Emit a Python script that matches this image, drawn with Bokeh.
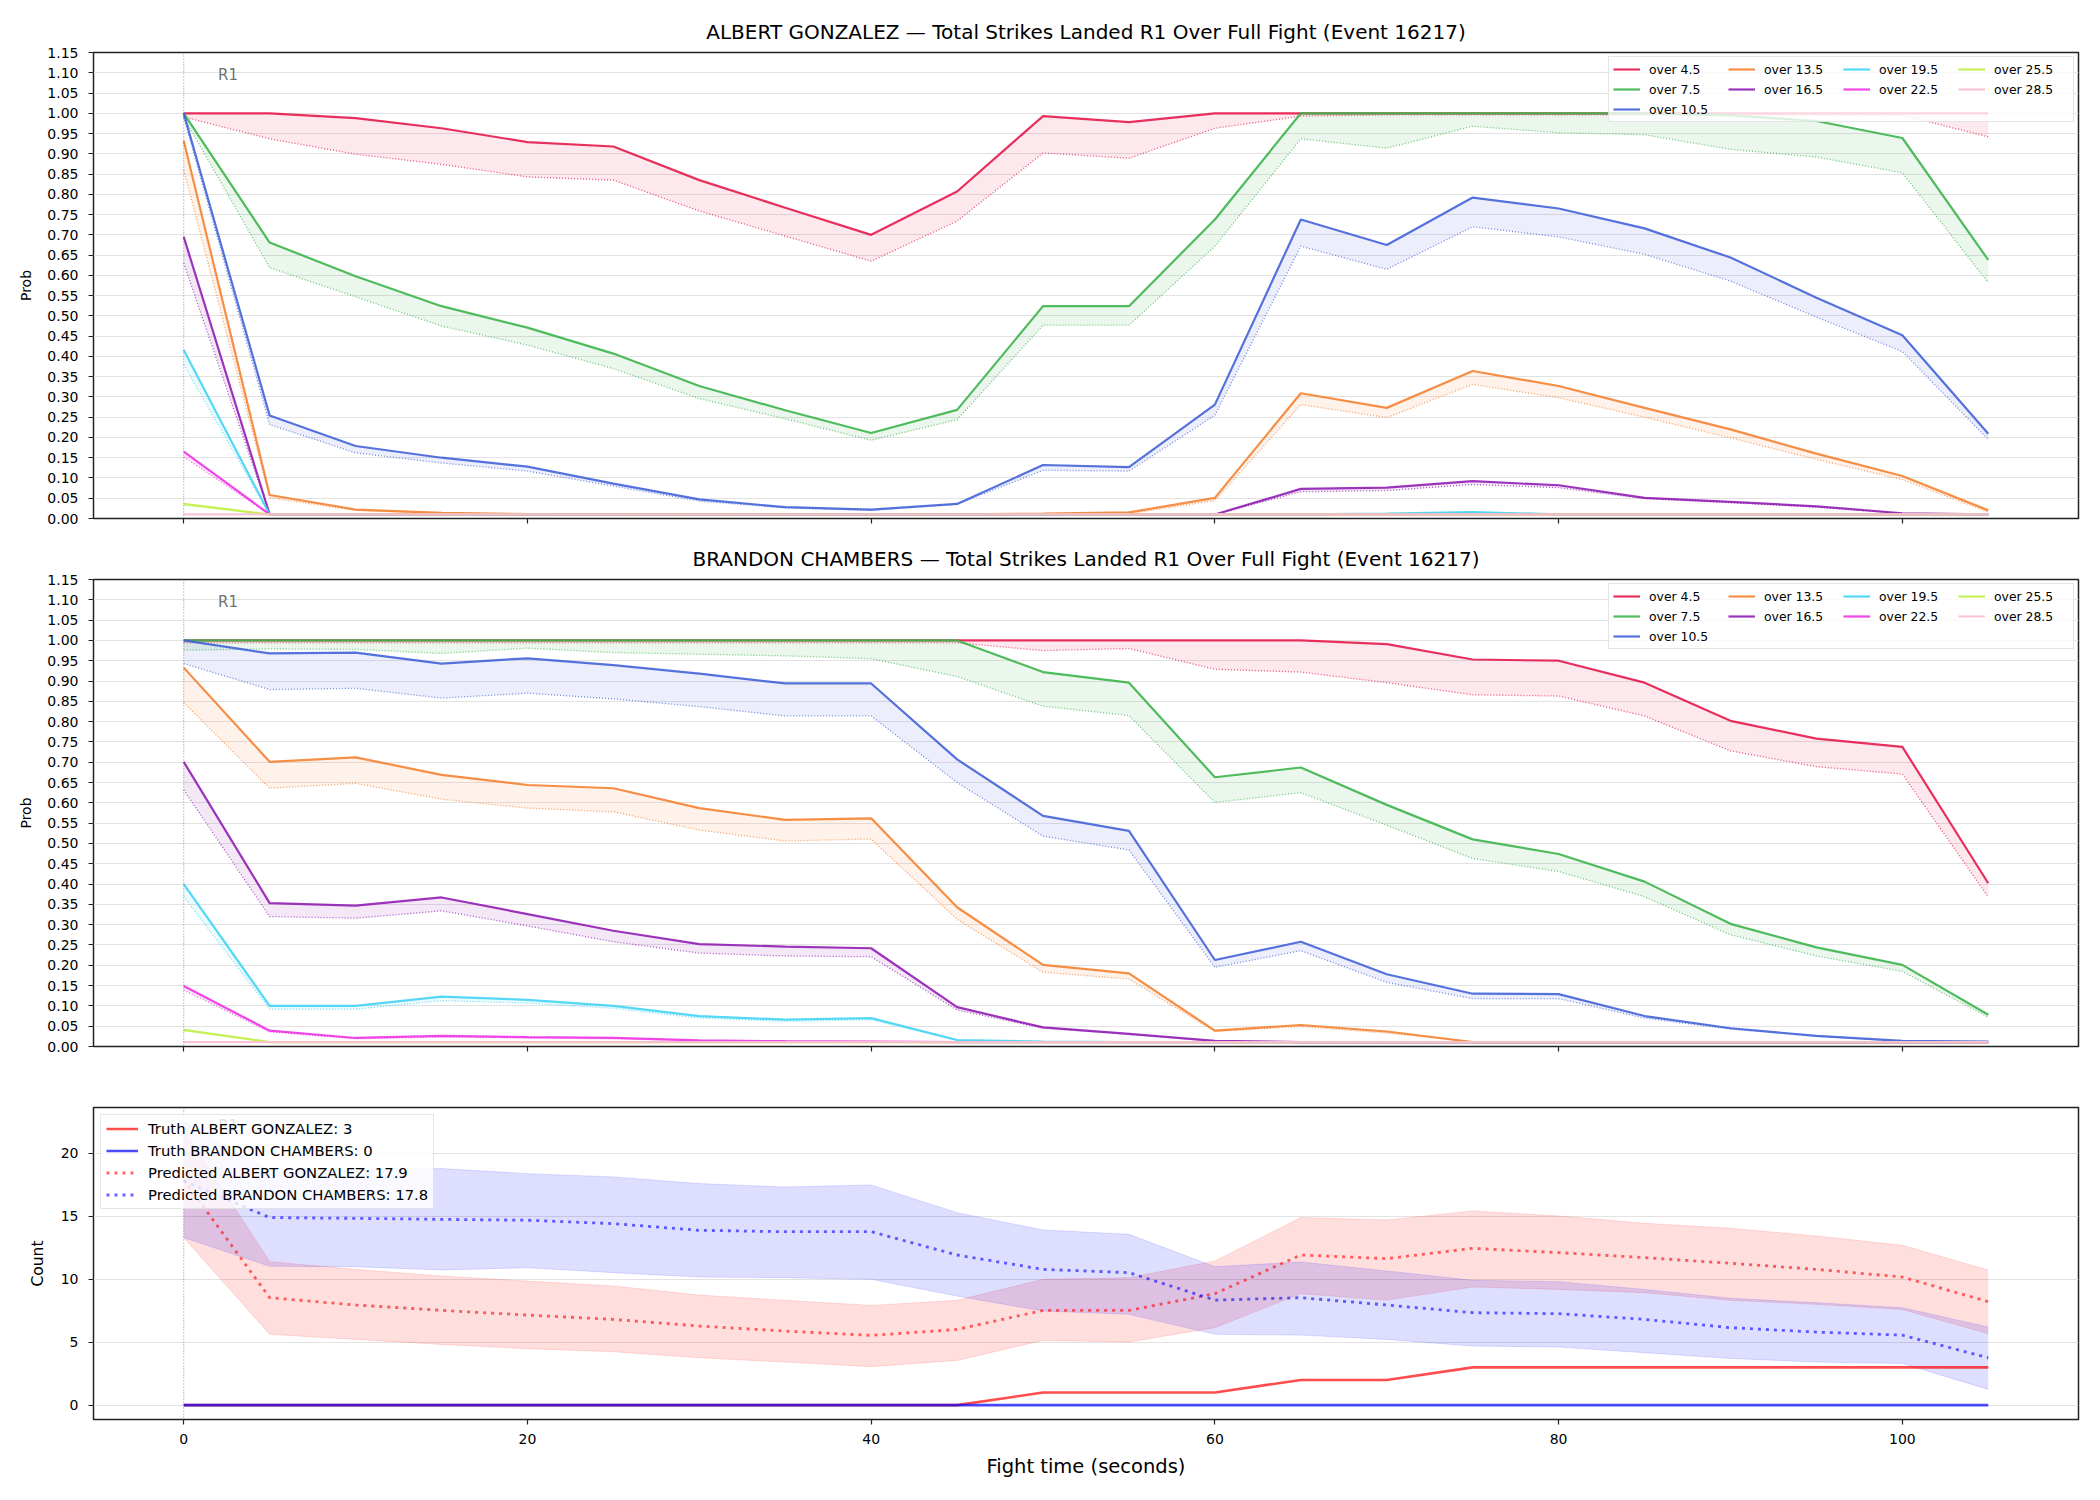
from bokeh.plotting import figure
from bokeh.models import (Range1d, FixedTicker, NumeralTickFormatter, Legend,
                          LegendItem, Span, Label)
from bokeh.layouts import column
from bokeh.embed import file_html
from bokeh.resources import INLINE

FONT = "DejaVu Sans"
EVENT_ID = 16217
FIGHTER_A = "ALBERT GONZALEZ"
FIGHTER_B = "BRANDON CHAMBERS"
MARKET = "Total Strikes Landed R1 Over Full Fight"
ROUND_LABEL = "R1"

# fight clock (seconds)
fight_time = [0, 5, 10, 15, 20, 25, 30, 35, 40, 45, 50, 55, 60, 65, 70, 75, 80, 85, 90, 95, 100, 105]

lines = ["over 4.5", "over 7.5", "over 10.5", "over 13.5", "over 16.5",
         "over 19.5", "over 22.5", "over 25.5", "over 28.5"]
line_colors = ["#e6194b", "#3cb44b", "#4363d8", "#f58231", "#911eb4",
               "#42d4f4", "#f032e6", "#bfef45", "#fabed4"]

# ---- ALBERT GONZALEZ: model probability (solid) and lower reference (dotted)
a_4_5 = [1.000, 1.000, 0.988, 0.963, 0.929, 0.918, 0.835, 0.767, 0.700, 0.807, 0.993, 0.978, 1.000, 1.000, 1.000, 1.000, 1.000, 1.000, 1.000, 1.000, 1.000, 1.000]
a_4_5_lo = [0.991, 0.937, 0.899, 0.874, 0.843, 0.835, 0.759, 0.697, 0.635, 0.734, 0.902, 0.889, 0.963, 0.993, 0.996, 0.996, 0.996, 0.996, 0.996, 0.995, 0.995, 0.942]
a_7_5 = [1.000, 0.681, 0.598, 0.524, 0.471, 0.407, 0.327, 0.267, 0.211, 0.268, 0.524, 0.524, 0.738, 1.000, 1.000, 1.000, 1.000, 1.000, 0.995, 0.981, 0.939, 0.638]
a_7_5_lo = [0.990, 0.619, 0.547, 0.475, 0.428, 0.370, 0.296, 0.246, 0.193, 0.244, 0.477, 0.477, 0.672, 0.937, 0.914, 0.968, 0.952, 0.947, 0.911, 0.892, 0.853, 0.582]
a_10_5 = [1.000, 0.254, 0.179, 0.150, 0.128, 0.086, 0.047, 0.028, 0.022, 0.036, 0.132, 0.127, 0.281, 0.738, 0.675, 0.792, 0.765, 0.716, 0.644, 0.545, 0.452, 0.209]
a_10_5_lo = [0.990, 0.232, 0.162, 0.137, 0.117, 0.080, 0.043, 0.026, 0.020, 0.035, 0.119, 0.117, 0.255, 0.672, 0.615, 0.720, 0.695, 0.652, 0.586, 0.497, 0.412, 0.195]
a_13_5 = [0.932, 0.058, 0.022, 0.014, 0.011, 0.010, 0.010, 0.010, 0.010, 0.010, 0.012, 0.015, 0.051, 0.309, 0.273, 0.364, 0.327, 0.273, 0.220, 0.160, 0.105, 0.020]
a_13_5_lo = [0.860, 0.051, 0.020, 0.012, 0.010, 0.010, 0.010, 0.010, 0.010, 0.010, 0.010, 0.012, 0.044, 0.281, 0.249, 0.331, 0.298, 0.250, 0.199, 0.146, 0.096, 0.016]
a_16_5 = [0.695, 0.010, 0.010, 0.010, 0.010, 0.010, 0.010, 0.010, 0.010, 0.010, 0.010, 0.010, 0.010, 0.073, 0.076, 0.092, 0.082, 0.051, 0.041, 0.030, 0.013, 0.010]
a_16_5_lo = [0.630, 0.010, 0.010, 0.010, 0.010, 0.010, 0.010, 0.010, 0.010, 0.010, 0.010, 0.010, 0.010, 0.066, 0.069, 0.084, 0.076, 0.049, 0.039, 0.028, 0.012, 0.010]
a_19_5 = [0.416, 0.010, 0.010, 0.010, 0.010, 0.010, 0.010, 0.010, 0.010, 0.010, 0.010, 0.010, 0.010, 0.010, 0.012, 0.016, 0.010, 0.010, 0.010, 0.010, 0.010, 0.010]
a_19_5_lo = [0.380, 0.010, 0.010, 0.010, 0.010, 0.010, 0.010, 0.010, 0.010, 0.010, 0.010, 0.010, 0.010, 0.010, 0.011, 0.014, 0.010, 0.010, 0.010, 0.010, 0.010, 0.010]
a_22_5 = [0.165, 0.010, 0.010, 0.010, 0.010, 0.010, 0.010, 0.010, 0.010, 0.010, 0.010, 0.010, 0.010, 0.010, 0.010, 0.010, 0.010, 0.010, 0.010, 0.010, 0.010, 0.010]
a_22_5_lo = [0.152, 0.010, 0.010, 0.010, 0.010, 0.010, 0.010, 0.010, 0.010, 0.010, 0.010, 0.010, 0.010, 0.010, 0.010, 0.010, 0.010, 0.010, 0.010, 0.010, 0.010, 0.010]
a_25_5 = [0.036, 0.010, 0.010, 0.010, 0.010, 0.010, 0.010, 0.010, 0.010, 0.010, 0.010, 0.010, 0.010, 0.010, 0.010, 0.010, 0.010, 0.010, 0.010, 0.010, 0.010, 0.010]
a_25_5_lo = [0.032, 0.010, 0.010, 0.010, 0.010, 0.010, 0.010, 0.010, 0.010, 0.010, 0.010, 0.010, 0.010, 0.010, 0.010, 0.010, 0.010, 0.010, 0.010, 0.010, 0.010, 0.010]
a_28_5 = [0.010, 0.010, 0.010, 0.010, 0.010, 0.010, 0.010, 0.010, 0.010, 0.010, 0.010, 0.010, 0.010, 0.010, 0.010, 0.010, 0.010, 0.010, 0.010, 0.010, 0.010, 0.010]
a_28_5_lo = [0.010, 0.010, 0.010, 0.010, 0.010, 0.010, 0.010, 0.010, 0.010, 0.010, 0.010, 0.010, 0.010, 0.010, 0.010, 0.010, 0.010, 0.010, 0.010, 0.010, 0.010, 0.010]

# ---- BRANDON CHAMBERS
b_4_5 = [1.000, 1.000, 1.000, 1.000, 1.000, 1.000, 1.000, 1.000, 1.000, 1.000, 1.000, 1.000, 1.000, 1.000, 0.991, 0.953, 0.950, 0.896, 0.802, 0.758, 0.738, 0.402]
b_4_5_lo = [0.994, 0.994, 0.994, 0.994, 0.994, 0.994, 0.994, 0.994, 0.994, 0.994, 0.975, 0.980, 0.929, 0.922, 0.896, 0.866, 0.863, 0.814, 0.728, 0.689, 0.671, 0.368]
b_7_5 = [1.000, 1.000, 1.000, 1.000, 1.000, 1.000, 1.000, 1.000, 1.000, 1.000, 0.922, 0.896, 0.663, 0.687, 0.595, 0.510, 0.474, 0.406, 0.302, 0.244, 0.201, 0.078]
b_7_5_lo = [0.976, 0.979, 0.978, 0.968, 0.981, 0.970, 0.966, 0.962, 0.955, 0.911, 0.838, 0.815, 0.601, 0.625, 0.545, 0.463, 0.431, 0.369, 0.275, 0.223, 0.185, 0.072]
b_10_5 = [1.000, 0.968, 0.970, 0.943, 0.956, 0.939, 0.918, 0.894, 0.894, 0.707, 0.568, 0.531, 0.213, 0.258, 0.178, 0.130, 0.129, 0.075, 0.045, 0.026, 0.014, 0.012]
b_10_5_lo = [0.943, 0.879, 0.882, 0.858, 0.870, 0.856, 0.837, 0.814, 0.814, 0.650, 0.518, 0.484, 0.195, 0.236, 0.158, 0.118, 0.118, 0.070, 0.043, 0.025, 0.013, 0.011]
b_13_5 = [0.933, 0.701, 0.712, 0.669, 0.644, 0.636, 0.587, 0.558, 0.562, 0.343, 0.201, 0.180, 0.039, 0.053, 0.037, 0.011, 0.011, 0.011, 0.011, 0.011, 0.011, 0.011]
b_13_5_lo = [0.847, 0.636, 0.648, 0.609, 0.587, 0.578, 0.533, 0.506, 0.511, 0.313, 0.183, 0.166, 0.037, 0.049, 0.033, 0.011, 0.011, 0.011, 0.011, 0.011, 0.011, 0.011]
b_16_5 = [0.701, 0.353, 0.347, 0.367, 0.326, 0.285, 0.252, 0.246, 0.242, 0.097, 0.047, 0.031, 0.014, 0.011, 0.011, 0.011, 0.011, 0.011, 0.011, 0.011, 0.011, 0.011]
b_16_5_lo = [0.632, 0.320, 0.316, 0.334, 0.297, 0.258, 0.230, 0.223, 0.221, 0.090, 0.045, 0.030, 0.013, 0.011, 0.011, 0.011, 0.011, 0.011, 0.011, 0.011, 0.011, 0.011]
b_19_5 = [0.400, 0.100, 0.100, 0.123, 0.115, 0.100, 0.075, 0.066, 0.070, 0.016, 0.012, 0.011, 0.011, 0.011, 0.011, 0.011, 0.011, 0.011, 0.011, 0.011, 0.011, 0.011]
b_19_5_lo = [0.369, 0.092, 0.092, 0.113, 0.107, 0.094, 0.070, 0.062, 0.066, 0.015, 0.011, 0.011, 0.011, 0.011, 0.011, 0.011, 0.011, 0.011, 0.011, 0.011, 0.011, 0.011]
b_22_5 = [0.149, 0.039, 0.021, 0.026, 0.023, 0.021, 0.015, 0.013, 0.012, 0.011, 0.011, 0.011, 0.011, 0.011, 0.011, 0.011, 0.011, 0.011, 0.011, 0.011, 0.011, 0.011]
b_22_5_lo = [0.139, 0.036, 0.019, 0.023, 0.021, 0.019, 0.014, 0.012, 0.011, 0.011, 0.011, 0.011, 0.011, 0.011, 0.011, 0.011, 0.011, 0.011, 0.011, 0.011, 0.011, 0.011]
b_25_5 = [0.041, 0.011, 0.011, 0.011, 0.011, 0.011, 0.011, 0.011, 0.011, 0.011, 0.011, 0.011, 0.011, 0.011, 0.011, 0.011, 0.011, 0.011, 0.011, 0.011, 0.011, 0.011]
b_25_5_lo = [0.038, 0.011, 0.011, 0.011, 0.011, 0.011, 0.011, 0.011, 0.011, 0.011, 0.011, 0.011, 0.011, 0.011, 0.011, 0.011, 0.011, 0.011, 0.011, 0.011, 0.011, 0.011]
b_28_5 = [0.011, 0.011, 0.011, 0.011, 0.011, 0.011, 0.011, 0.011, 0.011, 0.011, 0.011, 0.011, 0.011, 0.011, 0.011, 0.011, 0.011, 0.011, 0.011, 0.011, 0.011, 0.011]
b_28_5_lo = [0.011, 0.011, 0.011, 0.011, 0.011, 0.011, 0.011, 0.011, 0.011, 0.011, 0.011, 0.011, 0.011, 0.011, 0.011, 0.011, 0.011, 0.011, 0.011, 0.011, 0.011, 0.011]

# ---- running strike counts
truth_a = [0, 0, 0, 0, 0, 0, 0, 0, 0, 0, 1, 1, 1, 2, 2, 3, 3, 3, 3, 3, 3, 3]
truth_b = [0, 0, 0, 0, 0, 0, 0, 0, 0, 0, 0, 0, 0, 0, 0, 0, 0, 0, 0, 0, 0, 0]
pred_a = [17.9, 8.53, 7.95, 7.52, 7.15, 6.81, 6.28, 5.88, 5.54, 6.01, 7.52, 7.52, 8.85, 11.92, 11.63, 12.45, 12.11, 11.71, 11.26, 10.78, 10.17, 8.21]
pred_a_hi = [21.9, 11.39, 10.78, 10.25, 9.85, 9.46, 8.74, 8.32, 7.92, 8.32, 9.99, 10.12, 11.44, 14.89, 14.70, 15.42, 15.02, 14.44, 14.04, 13.43, 12.69, 10.73]
pred_a_lo = [13.3, 5.62, 5.22, 4.82, 4.48, 4.24, 3.76, 3.42, 3.05, 3.55, 5.14, 5.01, 6.15, 8.85, 8.34, 9.38, 9.19, 8.93, 8.32, 8.00, 7.60, 5.67]
pred_b = [17.8, 14.89, 14.83, 14.75, 14.68, 14.41, 13.88, 13.77, 13.77, 11.92, 10.78, 10.52, 8.34, 8.53, 7.95, 7.34, 7.26, 6.81, 6.15, 5.80, 5.56, 3.76]
pred_b_hi = [22.5, 18.60, 18.68, 18.78, 18.38, 18.12, 17.59, 17.32, 17.48, 15.28, 13.91, 13.56, 10.99, 11.36, 10.65, 9.91, 9.80, 9.19, 8.48, 8.13, 7.74, 6.20]
pred_b_lo = [13.3, 11.02, 10.99, 10.73, 10.91, 10.52, 10.17, 10.12, 9.99, 8.66, 7.47, 7.21, 5.62, 5.56, 5.22, 4.69, 4.61, 4.16, 3.71, 3.42, 3.31, 1.25]

prob_ticks = [0.0, 0.05, 0.1, 0.15, 0.2, 0.25, 0.3, 0.35, 0.4, 0.45, 0.5, 0.55,
              0.6, 0.65, 0.7, 0.75, 0.8, 0.85, 0.9, 0.95, 1.0, 1.05, 1.1, 1.15]
count_ticks = [0, 5, 10, 15, 20]
time_ticks = [0, 20, 40, 60, 80, 100]

series_a = [(a_4_5, a_4_5_lo), (a_7_5, a_7_5_lo), (a_10_5, a_10_5_lo), (a_13_5, a_13_5_lo),
            (a_16_5, a_16_5_lo), (a_19_5, a_19_5_lo), (a_22_5, a_22_5_lo), (a_25_5, a_25_5_lo),
            (a_28_5, a_28_5_lo)]
series_b = [(b_4_5, b_4_5_lo), (b_7_5, b_7_5_lo), (b_10_5, b_10_5_lo), (b_13_5, b_13_5_lo),
            (b_16_5, b_16_5_lo), (b_19_5, b_19_5_lo), (b_22_5, b_22_5_lo), (b_25_5, b_25_5_lo),
            (b_28_5, b_28_5_lo)]

x_range = Range1d(-5.25, 110.25)
TEXT = "#000000"
SPINE = "#222222"


def style(p, yticks):
    p.background_fill_color = "white"
    p.border_fill_color = "white"
    p.outline_line_color = SPINE
    p.outline_line_width = 1.5
    p.xgrid.visible = False
    p.ygrid.grid_line_color = "#e2e2e2"
    p.ygrid.grid_line_width = 1
    p.xaxis.ticker = FixedTicker(ticks=time_ticks)
    p.yaxis.ticker = FixedTicker(ticks=yticks)
    for ax in (p.xaxis[0], p.yaxis[0]):
        ax.axis_line_color = None
        ax.major_tick_line_color = SPINE
        ax.major_tick_line_width = 1.2
        ax.major_tick_out = 5
        ax.major_tick_in = 0
        ax.minor_tick_line_color = None
        ax.major_label_text_font = FONT
        ax.major_label_text_font_size = "14px"
        ax.major_label_text_color = TEXT
        ax.axis_label_text_font = FONT
        ax.axis_label_text_font_style = "normal"
        ax.axis_label_text_color = TEXT
    p.yaxis.major_label_standoff = 10
    p.yaxis.axis_label_standoff = 10
    p.add_layout(Span(location=0, dimension="height", line_color="#555555",
                      line_alpha=0.7, line_width=1, line_dash="1 2"))


def prob_panel(fighter, series, height, top, bottom):
    p = figure(width=2100, height=height, x_range=x_range, y_range=Range1d(0, 1.15),
               output_backend="svg", toolbar_location=None,
               min_border_left=93, min_border_right=22,
               min_border_top=top, min_border_bottom=bottom)
    style(p, prob_ticks)
    p.title.text = f"{fighter} \u2014 {MARKET} (Event {EVENT_ID})"
    p.title.text_font = FONT
    p.title.text_font_size = "20px"
    p.title.text_font_style = "normal"
    p.title.text_color = TEXT
    p.title.align = "center"
    p.title.standoff = 17
    p.yaxis.axis_label = "Prob"
    p.yaxis.axis_label_text_font_size = "14px"
    p.yaxis.formatter = NumeralTickFormatter(format="0.00")
    # shared time axis: tick marks only, the labels live on the bottom panel
    p.xaxis.major_label_overrides = {t: "" for t in time_ticks}
    p.xaxis.major_label_text_font_size = "1px"
    p.xaxis.major_label_standoff = 0

    solid = {}
    for name, color, (hi, lo) in zip(lines, line_colors, series):
        p.varea(x=fight_time, y1=lo, y2=hi, fill_color=color, fill_alpha=0.1)
        p.line(fight_time, lo, line_color=color, line_alpha=0.75, line_width=1.3,
               line_dash="1 2")
        solid[name] = p.line(fight_time, hi, line_color=color, line_alpha=0.9,
                             line_width=2.2)

    p.add_layout(Label(x=2, y=1.095, text=ROUND_LABEL, text_baseline="alphabetic",
                       text_font=FONT, text_font_size="15px", text_color="#555555",
                       text_alpha=0.85))

    order = ["over 4.5", "over 13.5", "over 19.5", "over 25.5",
             "over 7.5", "over 16.5", "over 22.5", "over 28.5", "over 10.5"]
    legend = Legend(items=[LegendItem(label=n, renderers=[solid[n]]) for n in order],
                    location="top_right", orientation="horizontal", ncols=4,
                    label_text_font=FONT, label_text_font_size="12.4px",
                    label_text_color=TEXT, glyph_width=27, glyph_height=16,
                    label_height=16, label_width=75, label_standoff=9,
                    spacing=4, padding=4, margin=4,
                    border_line_color="#cccccc", border_line_width=1.5,
                    background_fill_alpha=0.8)
    p.add_layout(legend)
    return p


p1 = prob_panel(FIGHTER_A, series_a, 530, 52, 12)
p2 = prob_panel(FIGHTER_B, series_b, 555, 49, 39)

# ---- counts panel
p3 = figure(width=2100, height=415, x_range=x_range, y_range=Range1d(-1.14, 23.63),
            output_backend="svg", toolbar_location=None,
            min_border_left=93, min_border_right=22, min_border_top=22,
            min_border_bottom=81)
style(p3, count_ticks)
p3.yaxis.axis_label = "Count"
p3.yaxis.axis_label_text_font_size = "15.5px"
p3.yaxis.axis_label_standoff = 11
p3.xaxis.axis_label = "Fight time (seconds)"
p3.xaxis.axis_label_text_font_size = "19.5px"
p3.xaxis.major_label_standoff = 9
p3.xaxis.axis_label_standoff = 8

p3.varea(x=fight_time, y1=pred_a_lo, y2=pred_a_hi, fill_color="#ff0000", fill_alpha=0.13)
p3.line(fight_time, pred_a_lo, line_color="#ff0000", line_alpha=0.12, line_width=1)
p3.line(fight_time, pred_a_hi, line_color="#ff0000", line_alpha=0.12, line_width=1)
p3.varea(x=fight_time, y1=pred_b_lo, y2=pred_b_hi, fill_color="#0000ff", fill_alpha=0.13)
p3.line(fight_time, pred_b_lo, line_color="#0000ff", line_alpha=0.12, line_width=1)
p3.line(fight_time, pred_b_hi, line_color="#0000ff", line_alpha=0.12, line_width=1)

r_ta = p3.line(fight_time, truth_a, line_color="#ff0000", line_alpha=0.7, line_width=2.6)
r_tb = p3.line(fight_time, truth_b, line_color="#0000ff", line_alpha=0.7, line_width=2.6)
r_pa = p3.line(fight_time, pred_a, line_color="#ff0000", line_alpha=0.6, line_width=2.8,
               line_dash="3 5")
r_pb = p3.line(fight_time, pred_b, line_color="#0000ff", line_alpha=0.6, line_width=2.8,
               line_dash="3 5")

p3.add_layout(Label(x=2, y=22.2, text=ROUND_LABEL, text_baseline="alphabetic",
                    text_font=FONT, text_font_size="15px", text_color="#555555",
                    text_alpha=0.85))

legend3 = Legend(items=[
    LegendItem(label=f"Truth {FIGHTER_A}: {truth_a[-1]}", renderers=[r_ta]),
    LegendItem(label=f"Truth {FIGHTER_B}: {truth_b[-1]}", renderers=[r_tb]),
    LegendItem(label=f"Predicted {FIGHTER_A}: {pred_a[0]:.1f}", renderers=[r_pa]),
    LegendItem(label=f"Predicted {FIGHTER_B}: {pred_b[0]:.1f}", renderers=[r_pb]),
], location="top_left", label_text_font=FONT, label_text_font_size="14.8px",
    label_text_color=TEXT, glyph_width=32, glyph_height=17, label_height=17,
    label_standoff=10, spacing=5, padding=5, margin=7,
    border_line_color="#cccccc", border_line_width=1.5, background_fill_alpha=0.8)
p3.add_layout(legend3)

layout = column(p1, p2, p3)
open("out.html", "w").write(file_html(layout, INLINE))
